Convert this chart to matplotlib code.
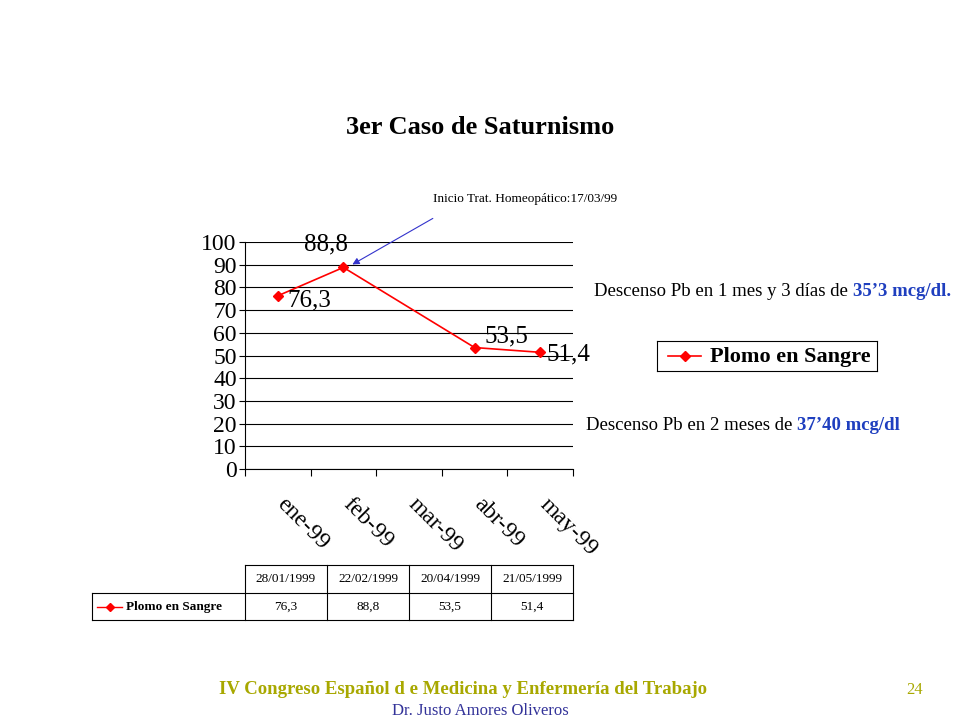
import matplotlib
matplotlib.use("Agg")
import matplotlib.pyplot as plt

months = ["ene-99", "feb-99", "mar-99", "abr-99", "may-99"]
point_idx = [0, 1, 3, 4]
values = [76.3, 88.8, 53.5, 51.4]
value_labels = ["76,3", "88,8", "53,5", "51,4"]
dates = ["28/01/1999", "22/02/1999", "20/04/1999", "21/05/1999"]
series_name = "Plomo en Sangre"
yticks = list(range(0, 101, 10))

W, H = 960, 720
plt.rcParams["font.family"] = "Liberation Serif"
fig = plt.figure(figsize=(9.6, 7.2), dpi=100)

def fx(x): return x / W
def fy(y): return 1 - y / H

fig.text(fx(480), fy(127), "3er Caso de Saturnismo", ha="center", va="center",
         fontsize=19, fontweight="bold")

# main chart
ax = fig.add_axes([fx(245), fy(469), (573 - 245) / W, (469 - 242) / H])
ax.plot(point_idx, values, color="red", marker="D", markersize=5, lw=1.2)
ax.set_xlim(-0.5, 4.5)
ax.set_ylim(0, 100)
ax.set_yticks(yticks)
ax.set_yticklabels([str(v) for v in yticks], fontsize=17)
ax.set_xticks([i - 0.5 for i in range(6)])
ax.set_xticklabels([])
ax.tick_params(axis="x", length=5, direction="out")
ax.tick_params(axis="y", length=4, pad=2)
for i, m in enumerate(months):
    ax.text(i + 0.15, -11, m, rotation=-45, ha="left", va="top",
            fontsize=17, rotation_mode="anchor")
ax.grid(axis="y", color="black", lw=0.8)
ax.set_axisbelow(True)
for s in ["top", "right"]:
    ax.spines[s].set_visible(False)
offsets = [(0.15, -2), (-0.6, 10), (0.15, 5), (0.1, -1)]
for i, v, lab, (dx, dy) in zip(point_idx, values, value_labels, offsets):
    ax.text(i + dx, v + dy, lab, fontsize=18, va="center", ha="left")

# annotation arrow
ax.annotate("", xy=(1.1, 89.5), xytext=(2.4, 111),
            arrowprops=dict(arrowstyle="-|>", color="#3333cc", lw=0.8),
            annotation_clip=False)
fig.text(fx(433), fy(199), "Inicio Trat. Homeopático:17/03/99", fontsize=9.5,
         va="center")

# side notes
t1 = fig.text(fx(594), fy(292), "Descenso Pb en 1 mes y 3 días de ", fontsize=13.5, va="center")
ax.annotate("35’3 mcg/dl.", xy=(1, 0.5), xycoords=t1, va="center", ha="left",
            fontsize=13.5, color="#1f3fbf", fontweight="bold", annotation_clip=False)
t2 = fig.text(fx(586), fy(425), "Descenso Pb en 2 meses de ", fontsize=13.5, va="center")
ax.annotate("37’40 mcg/dl", xy=(1, 0.5), xycoords=t2, va="center", ha="left",
            fontsize=13.5, color="#1f3fbf", fontweight="bold", annotation_clip=False)

# legend box
lax = fig.add_axes([fx(657), fy(371), (877 - 657) / W, 30 / H])
lax.set_xlim(0, 1); lax.set_ylim(0, 1)
lax.set_xticks([]); lax.set_yticks([])
lax.plot([0.05, 0.2], [0.5, 0.5], color="red", lw=1.2)
lax.plot([0.125], [0.5], color="red", marker="D", markersize=5)
lax.text(0.24, 0.48, series_name, fontsize=16, fontweight="bold", va="center")

# data table
tax = fig.add_axes([fx(92), fy(620), (573 - 92) / W, (620 - 565) / H])
tax.set_xlim(92, 573); tax.set_ylim(620, 565)
tax.axis("off")
col_x = [245, 327, 409, 491, 573]
kw = dict(color="black", lw=0.8, clip_on=False)
tax.plot([245, 573], [565, 565], **kw)
tax.plot([92, 573], [593, 593], **kw)
tax.plot([92, 573], [620, 620], **kw)
tax.plot([92, 92], [593, 620], **kw)
for x in col_x:
    tax.plot([x, x], [565, 620], **kw)
for j, (d, lab) in enumerate(zip(dates, value_labels)):
    cx = (col_x[j] + col_x[j + 1]) / 2
    tax.text(cx, 579, d, ha="center", va="center", fontsize=9.5)
    tax.text(cx, 607, lab, ha="center", va="center", fontsize=9.5)
tax.plot([97, 122], [607, 607], color="red", lw=1)
tax.plot([109.5], [607], color="red", marker="D", markersize=4)
tax.text(126, 607, series_name, fontsize=9.5, fontweight="bold", va="center")

# footer
fig.text(fx(463), fy(690), "IV Congreso Español d e Medicina y Enfermería del Trabajo",
         ha="center", va="center", fontsize=13.5, color="#a8a800", fontweight="bold")
fig.text(fx(915), fy(690), "24", ha="center", va="center", fontsize=12, color="#a8a800")
fig.text(fx(480), fy(711), "Dr. Justo Amores Oliveros", ha="center", va="center",
         fontsize=12, color="#333399")

fig.savefig("out.png", dpi=100)
